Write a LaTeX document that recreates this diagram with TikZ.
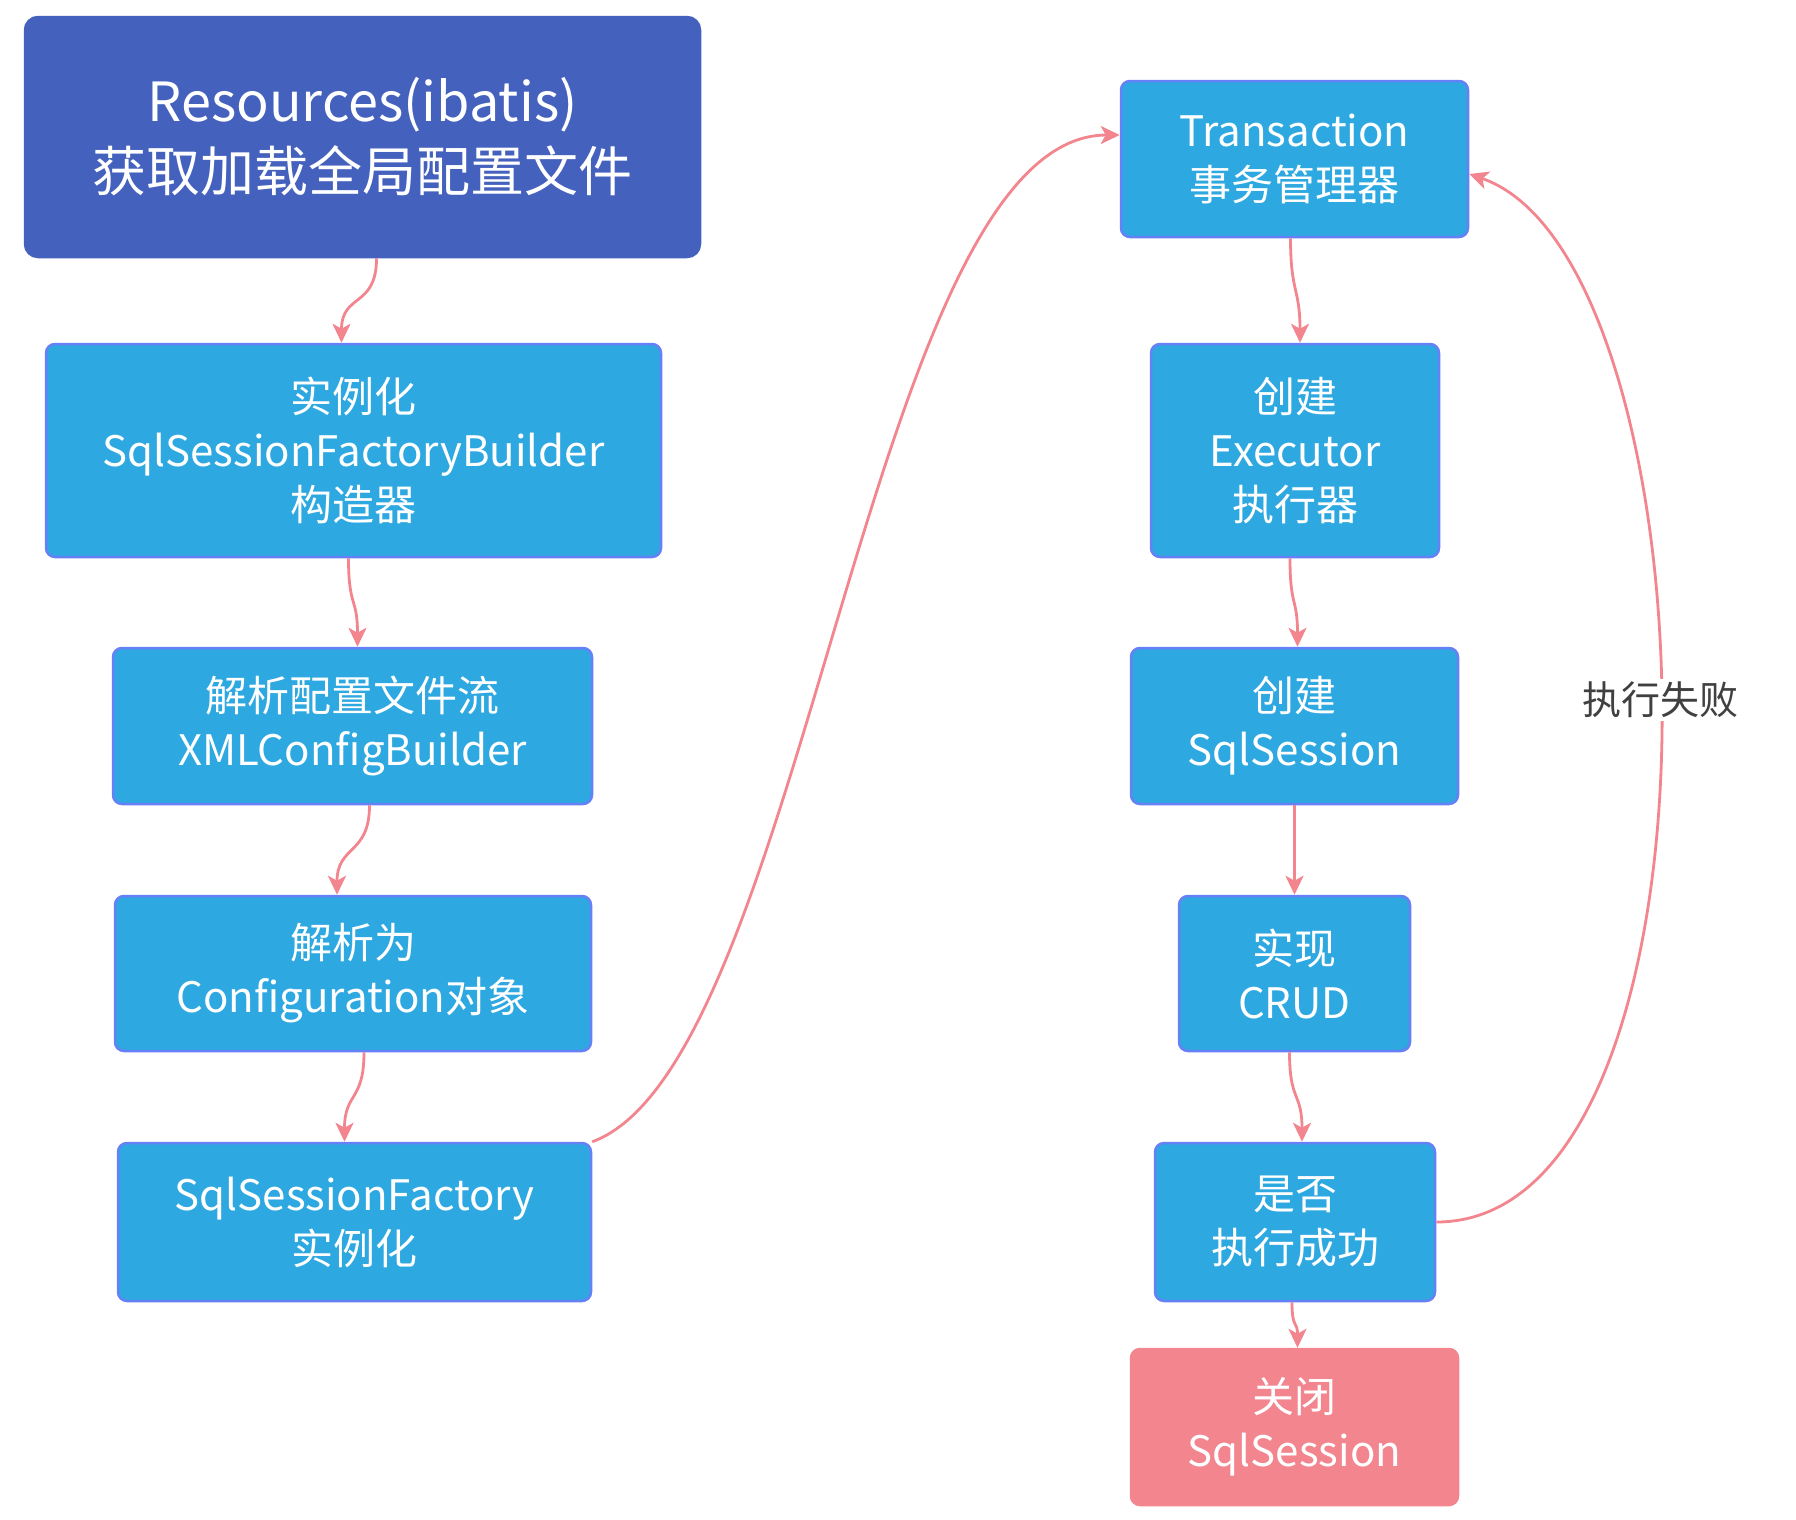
\documentclass[tikz,border=0pt]{standalone}
\usepackage{fontspec}
\setmainfont{Noto Sans CJK SC}
\usetikzlibrary{arrows.meta}
\definecolor{darkblue}{HTML}{4461BD}
\definecolor{boxblue}{HTML}{2EA8E0}
\definecolor{boxline}{HTML}{6680F8}
\definecolor{pinkc}{HTML}{F2858E}
\definecolor{labelc}{HTML}{404040}
\tikzset{
  box/.style={rectangle, rounded corners=9pt, draw=boxline, line width=2.5pt, fill=boxblue,
    text=white, align=center, inner sep=0pt, font=\fontsize{42pt}{54pt}\selectfont},
  topbox/.style={box, draw=darkblue, fill=darkblue, rounded corners=13pt, font=\fontsize{54pt}{70pt}\selectfont},
  endbox/.style={box, draw=pinkc, fill=pinkc},
  arr/.style={draw=pinkc, line width=2.8pt, -{Stealth[length=19pt,width=18pt,inset=5pt]}},
  lbl/.style={fill=white, text=labelc, inner sep=3pt, font=\fontsize{39pt}{46pt}\selectfont}
}
\begin{document}
\begin{tikzpicture}[x=1pt,y=-1pt]
\useasboundingbox (0,0) rectangle (1796,1519);
% left column
\node[topbox, minimum width=675pt, minimum height=240pt] (b1) at (362.5,137) {Resources(ibatis)\\获取加载全局配置文件};
\node[box, minimum width=615pt, minimum height=213pt] (b2) at (353.5,450.5) {实例化\\SqlSessionFactoryBuilder\\构造器};
\node[box, minimum width=479pt, minimum height=156pt] (b3) at (352.5,726) {解析配置文件流\\XMLConfigBuilder};
\node[box, minimum width=476pt, minimum height=155pt] (b4) at (353,973.5) {解析为\\Configuration对象};
\node[box, minimum width=473pt, minimum height=158pt] (b5) at (354.5,1222) {SqlSessionFactory\\实例化};
% right column
\node[box, minimum width=347pt, minimum height=156pt] (trans) at (1294.5,159) {Transaction\\事务管理器};
\node[box, minimum width=288pt, minimum height=213pt] (exec) at (1295,450.5) {创建\\Executor\\执行器};
\node[box, minimum width=327pt, minimum height=156pt] (sess) at (1294.5,726) {创建\\SqlSession};
\node[box, minimum width=231pt, minimum height=155pt] (crud) at (1294.5,973.5) {实现\\CRUD};
\node[box, minimum width=280pt, minimum height=158pt] (yes) at (1295,1222) {是否\\执行成功};
\node[endbox, minimum width=327pt, minimum height=156pt] (close) at (1294.5,1427) {关闭\\SqlSession};
% short connectors
\draw[arr] ([xshift=14pt]b1.south) .. controls +(0,50) and +(0,-50) .. ([xshift=-12pt]b2.north);
\draw[arr] ([xshift=-5pt]b2.south) .. controls +(0,50) and +(0,-50) .. ([xshift=5pt]b3.north);
\draw[arr] ([xshift=17pt]b3.south) .. controls +(0,50) and +(0,-50) .. ([xshift=-16pt]b4.north);
\draw[arr] ([xshift=11pt]b4.south) .. controls +(0,50) and +(0,-50) .. ([xshift=-10pt]b5.north);
\draw[arr] ([xshift=-4pt]trans.south) .. controls +(0,55) and +(0,-55) .. ([xshift=5pt]exec.north);
\draw[arr] ([xshift=-5pt]exec.south) .. controls +(0,50) and +(0,-50) .. ([xshift=3pt]sess.north);
\draw[arr] (sess.south) -- (crud.north);
\draw[arr] ([xshift=-5pt]crud.south) .. controls +(0,50) and +(0,-50) .. ([xshift=7pt]yes.north);
\draw[arr] ([xshift=-3pt]yes.south) .. controls +(0,28) and +(0,-28) .. ([xshift=3pt]close.north);
% long connectors
\draw[arr] (b5.north east) .. controls +(213,-78) and +(-250,0) .. ([yshift=24pt]trans.west);
\draw[arr] (yes.east) .. controls +(305,0) and +(249,86) .. node[lbl, pos=0.52] (fail) {执行失败} ([yshift=-15pt]trans.east);
\end{tikzpicture}
\end{document}
